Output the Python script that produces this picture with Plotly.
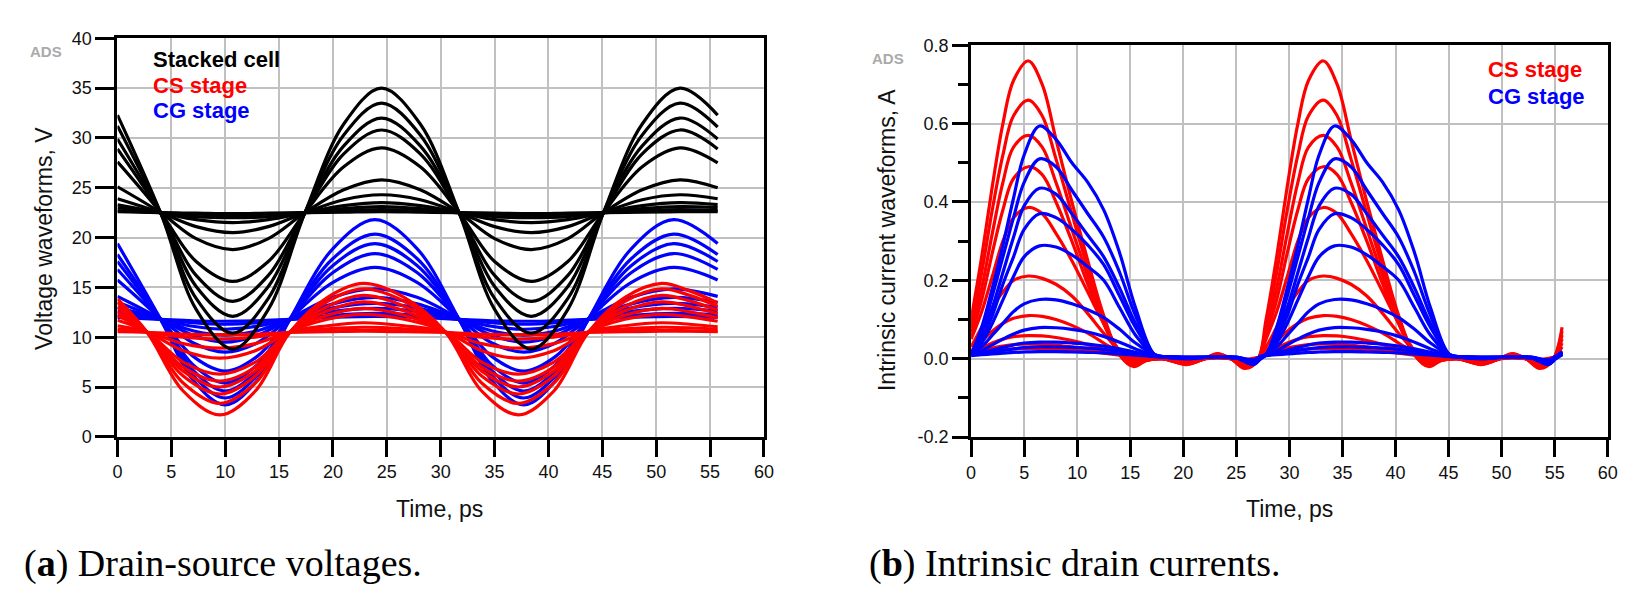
import plotly.graph_objects as go

W, H = 1640, 610

# ---------------- Panel (a): drain-source voltages ----------------
t_cell = [0, 4.0, 7.3, 10.7, 14.0, 17.4, 21.0, 24.5, 28.1, 31.7, 35.0, 38.4, 41.8, 45.1, 48.7, 52.2, 55.7]
t_cg = [0, 4.0, 7.0, 10.0, 13.0, 16.0, 20.0, 23.9, 27.8, 31.7, 34.7, 37.7, 40.7, 43.7, 47.7, 51.6, 55.7]
t_cs = [0, 2.75, 6.1, 9.5, 12.8, 16.0, 19.5, 22.8, 26.6, 30.45, 33.8, 37.2, 40.5, 43.7, 47.1, 50.5, 53.1, 55.7]

v_cell = [
    [32.3, 22.5, 12.8, 8.8, 12.8, 22.5, 31.4, 35.0, 31.4, 22.5, 12.8, 8.8, 12.8, 22.5, 31.4, 35.0, 32.3],
    [31.2, 22.5, 13.9, 10.4, 13.9, 22.5, 30.3, 33.5, 30.3, 22.5, 13.9, 10.4, 13.9, 22.5, 30.3, 33.5, 31.1],
    [29.9, 22.5, 15.1, 12.1, 15.1, 22.5, 29.2, 32.0, 29.2, 22.5, 15.1, 12.1, 15.1, 22.5, 29.2, 32.0, 29.9],
    [28.9, 22.5, 16.2, 13.6, 16.2, 22.5, 28.4, 30.8, 28.4, 22.5, 16.2, 13.6, 16.2, 22.5, 28.4, 30.8, 28.9],
    [27.6, 22.5, 17.6, 15.6, 17.6, 22.5, 27.1, 29.0, 27.1, 22.5, 17.6, 15.6, 17.6, 22.5, 27.1, 29.0, 27.5],
    [25.1, 22.5, 19.9, 18.8, 19.9, 22.5, 24.8, 25.8, 24.8, 22.5, 19.9, 18.8, 19.9, 22.5, 24.8, 25.8, 25.0],
    [23.9, 22.5, 21.1, 20.5, 21.1, 22.5, 23.8, 24.3, 23.8, 22.5, 21.1, 20.5, 21.1, 22.5, 23.8, 24.3, 23.9],
    [23.3, 22.5, 21.8, 21.5, 21.8, 22.5, 23.2, 23.5, 23.2, 22.5, 21.8, 21.5, 21.8, 22.5, 23.2, 23.5, 23.3],
    [23.0, 22.5, 22.1, 22.0, 22.1, 22.5, 22.9, 23.1, 22.9, 22.5, 22.1, 22.0, 22.1, 22.5, 22.9, 23.1, 23.0],
    [22.7, 22.5, 22.35, 22.3, 22.35, 22.5, 22.7, 22.8, 22.7, 22.5, 22.35, 22.3, 22.35, 22.5, 22.7, 22.8, 22.7],
    [22.6, 22.5, 22.45, 22.4, 22.45, 22.5, 22.55, 22.6, 22.55, 22.5, 22.45, 22.4, 22.45, 22.5, 22.55, 22.6, 22.6],
]

v_cg = [
    [19.4, 11.8, 5.7, 3.2, 5.7, 11.8, 18.9, 21.8, 18.9, 11.8, 5.7, 3.2, 5.7, 11.8, 18.9, 21.8, 19.4],
    [18.3, 11.8, 6.2, 3.9, 6.2, 11.8, 17.9, 20.35, 17.9, 11.8, 6.2, 3.9, 6.2, 11.8, 17.9, 20.35, 18.3],
    [17.6, 11.8, 6.7, 4.6, 6.7, 11.8, 17.2, 19.4, 17.2, 11.8, 6.7, 4.6, 6.7, 11.8, 17.2, 19.4, 17.6],
    [16.8, 11.8, 7.25, 5.4, 7.25, 11.8, 16.5, 18.4, 16.5, 11.8, 7.25, 5.4, 7.25, 11.8, 16.5, 18.4, 16.8],
    [15.75, 11.8, 8.1, 6.6, 8.1, 11.8, 15.5, 17.0, 15.5, 11.8, 8.1, 6.6, 8.1, 11.8, 15.5, 17.0, 15.75],
    [14.1, 11.8, 9.45, 8.5, 9.45, 11.8, 14.0, 14.85, 14.0, 11.8, 9.45, 8.5, 9.45, 11.8, 14.0, 14.85, 14.1],
    [13.5, 11.8, 10.2, 9.5, 10.2, 11.8, 13.35, 14.0, 13.35, 11.8, 10.2, 9.5, 10.2, 11.8, 13.35, 14.0, 13.5],
    [13.0, 11.8, 10.65, 10.2, 10.65, 11.8, 12.95, 13.4, 12.95, 11.8, 10.65, 10.2, 10.65, 11.8, 12.95, 13.4, 13.0],
    [12.65, 11.8, 11.1, 10.8, 11.1, 11.8, 12.6, 12.9, 12.6, 11.8, 11.1, 10.8, 11.1, 11.8, 12.6, 12.9, 12.65],
    [12.25, 11.8, 11.45, 11.3, 11.45, 11.8, 12.2, 12.4, 12.2, 11.8, 11.45, 11.3, 11.45, 11.8, 12.2, 12.4, 12.25],
    [12.0, 11.8, 11.65, 11.6, 11.65, 11.8, 12.0, 12.1, 12.0, 11.8, 11.65, 11.6, 11.65, 11.8, 12.0, 12.1, 12.0],
]

v_cs = [
    [13.85, 10.5, 4.6, 2.2, 4.6, 10.5, 14.0, 15.4, 14.0, 10.5, 4.6, 2.2, 4.6, 10.5, 14.0, 15.4, 14.65, 13.45],
    [13.45, 10.5, 5.4, 3.35, 5.4, 10.5, 13.6, 14.85, 13.6, 10.5, 5.4, 3.35, 5.4, 10.5, 13.6, 14.85, 14.2, 13.1],
    [13.0, 10.5, 6.1, 4.3, 6.1, 10.5, 13.1, 14.2, 13.1, 10.5, 6.1, 4.3, 6.1, 10.5, 13.1, 14.2, 13.65, 12.7],
    [12.55, 10.5, 6.6, 5.0, 6.6, 10.5, 12.65, 13.55, 12.65, 10.5, 6.6, 5.0, 6.6, 10.5, 12.65, 13.55, 13.1, 12.35],
    [12.15, 10.5, 7.0, 5.6, 7.0, 10.5, 12.2, 12.9, 12.2, 10.5, 7.0, 5.6, 7.0, 10.5, 12.2, 12.9, 12.55, 11.95],
    [11.7, 10.5, 7.5, 6.3, 7.5, 10.5, 11.8, 12.3, 11.8, 10.5, 7.5, 6.3, 7.5, 10.5, 11.8, 12.3, 12.05, 11.6],
    [11.15, 10.5, 8.65, 7.9, 8.65, 10.5, 11.15, 11.45, 11.15, 10.5, 8.65, 7.9, 8.65, 10.5, 11.15, 11.45, 11.3, 11.05],
    [10.85, 10.5, 9.35, 8.9, 9.35, 10.5, 10.85, 11.0, 10.85, 10.5, 9.35, 8.9, 9.35, 10.5, 10.85, 11.0, 10.95, 10.8],
    [10.65, 10.5, 10.0, 9.8, 10.0, 10.5, 10.65, 10.7, 10.65, 10.5, 10.0, 9.8, 10.0, 10.5, 10.65, 10.7, 10.65, 10.6],
    [10.55, 10.5, 10.3, 10.25, 10.3, 10.5, 10.55, 10.6, 10.55, 10.5, 10.3, 10.25, 10.3, 10.5, 10.55, 10.6, 10.6, 10.55],
]

# ---------------- Panel (b): intrinsic drain currents ----------------
t_ics = [0, 1, 2, 3, 4, 5.4, 6.7, 8, 9.5, 11, 12.5, 14, 15.3, 16.5, 18, 20.3, 22, 23.2, 24.5, 25.8, 27.0,
         27.8, 28.8, 29.8, 30.8, 31.8, 33.2, 34.5, 35.8, 37.3, 38.8, 40.3, 41.8, 43.1, 44.3, 45.8, 48.1,
         49.8, 51.0, 52.3, 53.6, 54.8, 55.7]
t_icg = [0, 1, 2, 3, 4, 5, 6.45, 8, 9.5, 11, 12.5, 14, 15.5, 17.3, 18.5, 20.3, 22, 23.5, 25, 26.6, 27.3,
         27.8, 28.8, 29.8, 30.8, 31.8, 32.8, 34.25, 35.8, 37.3, 38.8, 40.3, 41.8, 43.3, 45.1, 46.3, 48.1,
         49.8, 51.3, 52.8, 54.4, 55.1, 55.7]

# one period of each CS-stage current waveform (the picture repeats it in the second period)
i_cs_period = [
    [0.10, 0.26, 0.44, 0.60, 0.71, 0.76, 0.70, 0.56, 0.40, 0.25, 0.11, 0.01, -0.02, -0.005, 0.0, -0.015, 0.0, 0.013, 0.0, -0.025, -0.005],
    [0.08, 0.22, 0.38, 0.52, 0.62, 0.66, 0.62, 0.51, 0.37, 0.23, 0.10, 0.01, -0.018, -0.004, 0.0, -0.014, 0.0, 0.012, 0.0, -0.023, -0.004],
    [0.07, 0.18, 0.32, 0.45, 0.54, 0.57, 0.54, 0.45, 0.33, 0.21, 0.09, 0.01, -0.016, -0.004, 0.0, -0.013, 0.0, 0.011, 0.0, -0.021, -0.004],
    [0.06, 0.15, 0.27, 0.38, 0.46, 0.49, 0.47, 0.40, 0.30, 0.19, 0.09, 0.015, -0.014, -0.003, 0.0, -0.012, 0.0, 0.010, 0.0, -0.019, -0.003],
    [0.05, 0.12, 0.21, 0.30, 0.36, 0.386, 0.37, 0.32, 0.25, 0.17, 0.09, 0.02, -0.01, -0.003, 0.0, -0.010, 0.0, 0.008, 0.0, -0.016, -0.002],
    [0.03, 0.08, 0.13, 0.17, 0.20, 0.211, 0.205, 0.19, 0.16, 0.115, 0.065, 0.02, -0.005, -0.002, 0.0, -0.007, 0.0, 0.006, 0.0, -0.012, -0.001],
    [0.02, 0.045, 0.07, 0.09, 0.103, 0.11, 0.108, 0.10, 0.085, 0.065, 0.04, 0.015, 0.0, 0.0, 0.002, -0.004, 0.0, 0.004, 0.0, -0.008, 0.0],
    [0.015, 0.027, 0.04, 0.05, 0.056, 0.059, 0.058, 0.054, 0.046, 0.036, 0.024, 0.012, 0.002, 0.0, 0.002, -0.003, 0.0, 0.003, 0.0, -0.006, 0.0],
    [0.012, 0.02, 0.027, 0.032, 0.036, 0.038, 0.037, 0.035, 0.03, 0.024, 0.017, 0.01, 0.003, 0.002, 0.002, -0.002, 0.0, 0.002, 0.0, -0.004, 0.002],
    [0.01, 0.015, 0.019, 0.022, 0.025, 0.026, 0.026, 0.025, 0.022, 0.018, 0.014, 0.009, 0.004, 0.003, 0.002, 0.0, 0.001, 0.002, 0.001, -0.002, 0.003],
]
i_cs_end = [0.08, 0.07, 0.06, 0.05, 0.04, 0.03, 0.02, 0.015, 0.012, 0.01]

i_cg_period = [
    [0.01, 0.08, 0.18, 0.29, 0.41, 0.52, 0.594, 0.56, 0.50, 0.45, 0.38, 0.27, 0.13, 0.01, 0.003, 0.0, 0.003, 0.003, 0.002, -0.015, 0.0],
    [0.01, 0.07, 0.16, 0.26, 0.36, 0.45, 0.51, 0.49, 0.43, 0.37, 0.31, 0.22, 0.11, 0.01, 0.003, 0.0, 0.003, 0.003, 0.002, -0.014, 0.0],
    [0.01, 0.06, 0.13, 0.22, 0.31, 0.39, 0.435, 0.42, 0.37, 0.315, 0.26, 0.18, 0.09, 0.01, 0.003, 0.001, 0.003, 0.003, 0.002, -0.012, 0.001],
    [0.01, 0.05, 0.11, 0.19, 0.26, 0.33, 0.37, 0.36, 0.33, 0.29, 0.24, 0.16, 0.08, 0.01, 0.003, 0.001, 0.003, 0.003, 0.002, -0.011, 0.001],
    [0.01, 0.04, 0.09, 0.15, 0.21, 0.26, 0.288, 0.285, 0.265, 0.235, 0.20, 0.13, 0.06, 0.01, 0.004, 0.002, 0.003, 0.003, 0.002, -0.01, 0.002],
    [0.01, 0.03, 0.06, 0.09, 0.12, 0.14, 0.151, 0.15, 0.14, 0.125, 0.105, 0.075, 0.04, 0.01, 0.004, 0.002, 0.003, 0.003, 0.003, -0.008, 0.003],
    [0.01, 0.02, 0.035, 0.05, 0.063, 0.073, 0.0795, 0.079, 0.075, 0.068, 0.057, 0.042, 0.025, 0.008, 0.004, 0.003, 0.003, 0.003, 0.003, -0.006, 0.004],
    [0.01, 0.015, 0.022, 0.029, 0.035, 0.04, 0.0425, 0.042, 0.04, 0.037, 0.032, 0.025, 0.016, 0.007, 0.005, 0.003, 0.004, 0.004, 0.003, -0.005, 0.005],
    [0.01, 0.013, 0.017, 0.021, 0.025, 0.028, 0.03, 0.03, 0.029, 0.027, 0.024, 0.019, 0.013, 0.006, 0.005, 0.004, 0.004, 0.004, 0.004, -0.004, 0.006],
    [0.008, 0.01, 0.012, 0.014, 0.016, 0.017, 0.018, 0.018, 0.017, 0.016, 0.015, 0.012, 0.009, 0.005, 0.005, 0.004, 0.004, 0.004, 0.004, -0.003, 0.006],
]
i_cg_end = [0.01, 0.012, 0.012, 0.013, 0.013, 0.014, 0.015, 0.016, 0.017, 0.018]

x_ticks = [0, 5, 10, 15, 20, 25, 30, 35, 40, 45, 50, 55, 60]
v_ticks = [0, 5, 10, 15, 20, 25, 30, 35, 40]
i_ticks = [-0.2, 0.0, 0.2, 0.4, 0.6, 0.8]
i_tick_text = ["-0.2", "0.0", "0.2", "0.4", "0.6", "0.8"]

RED, BLUE, BLACK = "#ff0000", "#0000ff", "#000000"
LW = 3.2

fig = go.Figure()

def add(x, y, color, xa, ya):
    fig.add_trace(go.Scatter(x=x, y=y, mode="lines", xaxis=xa, yaxis=ya,
                             line=dict(color=color, width=LW, shape="spline", smoothing=1.0),
                             showlegend=False, hoverinfo="skip"))

for v in v_cg:
    add(t_cg, v, BLUE, "x", "y")
for v in v_cs:
    add(t_cs, v, RED, "x", "y")
for v in v_cell:
    add(t_cell, v, BLACK, "x", "y")

for k, per in enumerate(i_cs_period):
    add(t_ics, per + per + [i_cs_end[k]], RED, "x2", "y2")
for k, per in enumerate(i_cg_period):
    add(t_icg, per + per + [i_cg_end[k]], BLUE, "x2", "y2")

# screen pixel -> paper fraction
def px(x):
    return x / W

def py(y):
    return 1 - y / H

FONT = "Arial"
GRID = "#c0c0c0"
axis_common = dict(showline=True, linecolor="black", linewidth=3, mirror=True,
                   showgrid=True, gridcolor=GRID, gridwidth=2, zeroline=False,
                   ticks="outside", tickcolor="black", tickwidth=3,
                   tickfont=dict(family=FONT, size=18, color="#111"))

fig.update_layout(
    width=W, height=H, autosize=False,
    margin=dict(l=0, r=0, t=0, b=0),
    paper_bgcolor="white", plot_bgcolor="white",
    hovermode=False,
    xaxis=dict(domain=[px(113.5), px(766)], range=[0, 60], tickvals=x_ticks, ticklen=17,
               anchor="y", **axis_common),
    yaxis=dict(domain=[py(441.3), py(29.3)], range=[0, 40], tickvals=v_ticks, ticklen=19,
               anchor="x", **axis_common),
    xaxis2=dict(domain=[px(975), px(1617.5)], range=[0, 60], tickvals=x_ticks, ticklen=17,
                anchor="y2", **axis_common),
    yaxis2=dict(domain=[py(441.5), py(36.5)], range=[-0.2, 0.8], tickvals=i_ticks,
                ticktext=i_tick_text, ticklen=16, anchor="x2",
                minor=dict(dtick=0.1, tick0=0, ticks="outside", ticklen=10, tickwidth=3,
                           tickcolor="black", showgrid=False),
                **axis_common),
)

# white boxes behind the in-plot legends (they cover the grid)
fig.add_shape(type="rect", xref="paper", yref="paper", layer="between",
              x0=px(137), x1=px(290), y0=py(123), y1=py(30.8),
              fillcolor="white", line=dict(width=0))
fig.add_shape(type="rect", xref="paper", yref="paper", layer="between",
              x0=px(1486), x1=px(1615.5), y0=py(107), y1=py(38),
              fillcolor="white", line=dict(width=0))

def note(text, x, y, size, color="black", xanchor="left", yanchor="middle", family=FONT, angle=0):
    fig.add_annotation(text=text, x=px(x), y=py(y), xref="paper", yref="paper",
                       xanchor=xanchor, yanchor=yanchor, showarrow=False, textangle=angle,
                       font=dict(family=family, size=size, color=color))

# legends
note("<b>Stacked cell</b>", 147, 51, 22, BLACK)
note("<b>CS stage</b>", 147, 78, 22, RED)
note("<b>CG stage</b>", 147, 104, 22, BLUE)
note("<b>CS stage</b>", 1495, 62, 22, RED)
note("<b>CG stage</b>", 1495, 89, 22, BLUE)

# ADS marks
note("<b>ADS</b>", 41, 43, 15, "#aaaaaa", xanchor="center")
note("<b>ADS</b>", 891, 50, 15, "#aaaaaa", xanchor="center")

# axis titles
note("Voltage waveforms, V", 40, 236, 23, "#111", xanchor="center", angle=-90)
note("Intrinsic current waveforms, A", 890, 238, 23, "#111", xanchor="center", angle=-90)
note("Time, ps", 439, 516, 23, "#111", xanchor="center")
note("Time, ps", 1296, 516, 23, "#111", xanchor="center")

# captions
note("(<b>a</b>) Drain-source voltages.", 17, 572, 38, "black", family="Liberation Serif")
note("(<b>b</b>) Intrinsic drain currents.", 870, 572, 38, "black", family="Liberation Serif")

# remove the browser's default page margin so the figure sits at the window corner
fig.write_html("out.html", config={"displayModeBar": False},
               post_script="document.body.style.margin='0px';")
